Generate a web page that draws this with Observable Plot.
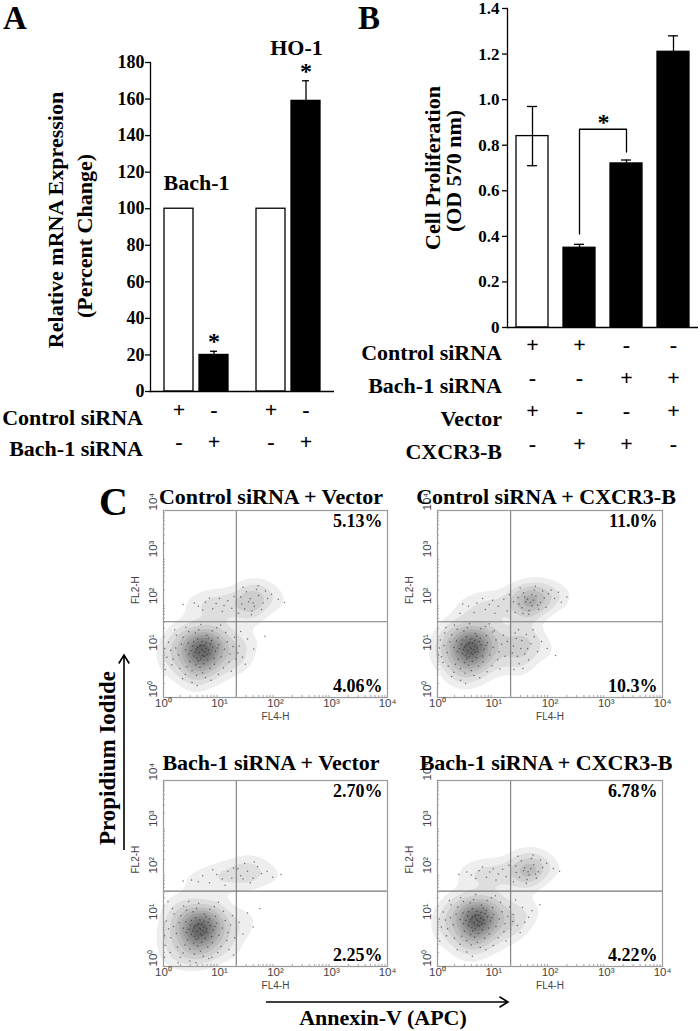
<!DOCTYPE html>
<html><head><meta charset="utf-8">
<script src="https://cdn.jsdelivr.net/npm/d3@7"></script>
<script src="https://cdn.jsdelivr.net/npm/@observablehq/plot@0.6"></script>
<style>
html,body{margin:0;padding:0;background:#fff;}
#fig{position:relative;width:700px;height:1031px;overflow:hidden;background:#fff;}
.p{position:absolute;}
.t{position:absolute;font-family:"Liberation Serif","Times New Roman",serif;font-weight:bold;white-space:nowrap;line-height:1;color:#000;}
</style></head><body><div id="fig"></div>
<script>
// ---------------- Panel A data ----------------
const groupsA = ["Bach-1", "HO-1"];
const conditionsA = ["Control siRNA", "Bach-1 siRNA"];
const valuesA = [100, 20, 100, 159];
const errorsA = [0, 2, 0, 11];
const significantA = [false, true, false, true];
const rowLabelsA = ["Control siRNA", "Bach-1 siRNA"];
const signsA = [["+", "-", "+", "-"], ["-", "+", "-", "+"]];
const ticksA = [0, 20, 40, 60, 80, 100, 120, 140, 160, 180];
const yTitleA = ["Relative mRNA Expression", "(Percent Change)"];

// ---------------- Panel B data ----------------
const conditionsB = ["Control siRNA + Vector", "Control siRNA + CXCR3-B", "Bach-1 siRNA + CXCR3-B", "Bach-1 siRNA + Vector"];
const valuesB = [0.84, 0.35, 0.72, 1.21];
const errorsB = [0.13, 0.015, 0.015, 0.07];
const rowLabelsB = ["Control siRNA", "Bach-1 siRNA", "Vector", "CXCR3-B"];
const signsB = [["+", "+", "-", "-"], ["-", "-", "+", "+"], ["+", "-", "-", "+"], ["-", "+", "+", "-"]];
const bracketB = [[1, 0.41], [1, 0.87], [2, 0.87], [2, 0.77]];
const ticksB = [0, 0.2, 0.4, 0.6, 0.8, 1.0, 1.2, 1.4];
const yTitleB = ["Cell Proliferation", "(OD 570 nm)"];

// ---------------- Panel C data (log10 units) ----------------
const titlesC = ["Control siRNA + Vector", "Control siRNA + CXCR3-B", "Bach-1 siRNA + Vector", "Bach-1 siRNA + CXCR3-B"];
const upperPctC = ["5.13%", "11.0%", "2.70%", "6.78%"];
const lowerPctC = ["4.06%", "10.3%", "2.25%", "4.22%"];
const decadesC = [0, 1, 2, 3, 4];
const gateX = [1.3];
const gateY = [1.62];

const pointsCV = [
[0.70,1.00],[0.64,0.96],[0.76,1.05],[0.58,1.03],[0.82,0.94],[0.67,1.12],[0.73,0.88],[0.60,0.85],[0.88,1.08],[0.52,1.10],
[0.69,1.20],[0.79,0.80],[0.61,1.25],[0.93,0.99],[0.45,0.93],[0.72,0.72],[0.54,1.19],[0.86,1.22],[0.39,1.02],[0.99,1.13],
[0.65,0.64],[0.77,1.33],[0.47,0.77],[1.03,0.87],[0.32,1.14],[0.83,0.62],[0.57,1.38],[0.97,1.28],[0.42,0.66],[1.09,1.03],
[0.27,0.91],[0.70,0.53],[0.63,1.45],[1.14,1.19],[0.35,1.29],[0.91,0.71],[0.51,0.57],[1.19,0.93],[0.22,1.06],[0.87,1.43],
[0.45,1.41],[1.07,0.63],[0.17,0.82],[0.75,0.42],[0.59,0.47],[1.24,1.09],[0.29,0.62],[0.95,1.49],[0.13,1.01],[1.17,0.76],
[0.39,0.49],[0.67,1.56],[1.27,1.29],[0.09,1.18],[0.85,0.37],[0.23,1.33],[1.11,1.39],[0.51,0.32],[0.06,0.86],[1.21,0.56],
[0.68,1.03],[0.74,0.97],[0.61,1.07],[0.78,0.92],[0.70,0.90],[0.56,0.97],[0.81,1.01],[0.65,1.09],[0.72,1.11],[0.54,0.89],
[0.62,0.78],[0.84,1.15],[0.49,1.00],[0.90,0.84],[0.76,1.17],[0.58,0.70],[0.44,1.16],[0.96,1.06],[0.66,0.82],[0.80,1.27],
[0.02,1.05],[0.15,0.70],[0.34,0.40],[1.29,0.82],[0.98,0.50],[0.60,0.25],[0.40,1.50],[1.02,1.55],[0.20,1.45],[0.03,0.60],
[0.62,1.95],[0.75,2.04],[0.88,1.90],[1.00,2.12],[1.08,1.97],[0.94,2.01],[1.15,2.07],[0.82,2.13],[1.22,1.91],[0.70,1.87],
[1.26,2.16],[0.55,2.02],[0.35,1.99],[1.05,1.84],
[1.40,2.00],[1.55,2.11],[1.62,1.95],[1.70,2.18],[1.48,2.26],[1.78,2.02],[1.58,1.85],[1.86,2.12],[1.45,1.90],[1.66,2.31],
[1.52,2.05],[1.75,1.88],[1.93,2.21],[1.38,2.15],[1.60,2.02],[2.05,2.10],[1.69,2.39],[1.42,2.36],[2.16,2.03],[1.82,2.28],
[1.34,1.80],[1.57,1.77],
[1.35,1.10],[1.41,0.86],[1.50,1.25],[1.46,0.71],[1.61,1.04],[1.38,1.41],[1.81,1.31],[1.33,0.95]
];
const pointsCC = [
[0.60,1.05],[0.54,1.00],[0.66,1.10],[0.48,1.08],[0.72,0.98],[0.57,1.17],[0.63,0.92],[0.50,0.90],[0.78,1.13],[0.42,1.14],
[0.59,1.25],[0.69,0.85],[0.51,1.30],[0.83,1.03],[0.35,0.98],[0.62,0.77],[0.44,1.23],[0.76,1.27],[0.29,1.07],[0.89,1.17],
[0.55,0.69],[0.67,1.37],[0.37,0.82],[0.93,0.91],[0.22,1.19],[0.73,0.67],[0.47,1.42],[0.87,1.32],[0.32,0.71],[0.99,1.07],
[0.17,0.96],[0.60,0.58],[0.53,1.49],[1.04,1.23],[0.25,1.34],[0.81,0.76],[0.41,0.62],[1.09,0.98],[0.12,1.11],[0.77,1.47],
[0.35,1.46],[0.97,0.68],[0.07,0.87],[0.65,0.47],[0.49,0.52],[1.14,1.14],[0.19,0.67],[0.85,1.52],[0.03,1.06],[1.07,0.81],
[0.29,0.54],[0.57,1.58],[1.17,1.33],[0.05,1.23],[0.75,0.42],[0.13,1.38],[1.01,1.43],[0.41,0.37],[0.02,0.91],[1.11,0.61],
[0.58,1.08],[0.64,1.02],[0.51,1.12],[0.68,0.97],[0.60,0.95],[0.46,1.02],[0.71,1.06],[0.55,1.14],[0.62,1.16],[0.44,0.94],
[0.52,0.83],[0.74,1.20],[0.39,1.05],[0.80,0.89],[0.66,1.22],[0.48,0.75],[0.34,1.21],[0.86,1.11],[0.56,0.87],[0.70,1.32],
[0.10,0.75],[0.25,0.45],[1.20,0.88],[0.88,0.55],[0.50,0.30],[0.30,1.55],[0.92,1.58],[0.15,1.50],[1.24,1.20],[0.98,1.40],
[1.35,1.10],[1.42,0.88],[1.50,1.22],[1.45,0.72],[1.60,1.05],[1.38,1.38],[1.72,1.30],[1.33,0.95],[1.55,0.93],[1.66,1.15],
[1.48,1.05],[1.78,0.98],[1.40,1.26],[1.62,0.80],[1.85,1.20],[1.52,0.62],[1.36,0.60],[1.70,1.45],[1.95,1.05],[2.10,0.90],
[1.44,1.45],[1.58,1.35],
[1.45,2.00],[1.60,2.10],[1.68,1.96],[1.75,2.17],[1.53,2.24],[1.83,2.03],[1.63,1.86],[1.90,2.13],[1.50,1.92],[1.72,2.30],
[1.57,2.05],[1.80,1.89],[1.97,2.22],[1.43,2.14],[1.65,2.03],[2.08,2.12],[1.74,2.38],[1.47,2.34],[2.20,2.04],[1.87,2.28],
[1.38,1.82],[1.62,1.78],[1.70,2.08],[1.55,2.15],[1.78,1.98],[2.02,2.30],[1.35,2.05],[1.93,1.93],[2.15,2.25],[2.30,2.15],
[1.52,1.80],[1.68,2.20],
[0.55,1.95],[0.70,2.02],[0.85,1.88],[0.98,2.08],[1.08,1.95],[0.92,1.99],[1.18,2.10],[0.80,2.12],[1.24,1.85],[0.65,1.82],
[1.28,2.20],[0.45,2.00],[0.40,1.80],[1.02,1.80]
];
const pointsBV = [
[0.66,0.80],[0.60,0.76],[0.72,0.85],[0.54,0.83],[0.78,0.74],[0.63,0.92],[0.69,0.68],[0.56,0.65],[0.84,0.88],[0.48,0.89],
[0.65,1.00],[0.75,0.60],[0.57,1.05],[0.89,0.79],[0.41,0.73],[0.68,0.52],[0.50,0.99],[0.82,1.02],[0.35,0.82],[0.95,0.93],
[0.61,0.44],[0.73,1.13],[0.43,0.57],[0.99,0.67],[0.28,0.94],[0.79,0.42],[0.53,1.18],[0.93,1.08],[0.38,0.46],[1.05,0.83],
[0.23,0.71],[0.66,0.33],[0.59,1.25],[1.10,0.99],[0.31,1.09],[0.87,0.51],[0.47,0.37],[1.15,0.73],[0.18,0.86],[0.83,1.23],
[0.41,1.21],[1.03,0.43],[0.13,0.62],[0.71,0.22],[0.55,0.27],[1.20,0.89],[0.25,0.42],[0.91,1.29],[0.09,0.81],[1.13,0.56],
[0.35,0.29],[0.63,1.36],[1.23,1.09],[0.05,0.98],[0.81,0.17],[0.19,1.13],[1.07,1.19],[0.47,0.12],[0.02,0.66],[1.17,0.36],
[0.64,0.83],[0.70,0.77],[0.57,0.87],[0.74,0.72],[0.66,0.70],[0.52,0.77],[0.77,0.81],[0.61,0.89],[0.68,0.91],[0.50,0.69],
[0.58,0.58],[0.80,0.95],[0.45,0.80],[0.86,0.64],[0.72,0.97],[0.54,0.50],[0.40,0.96],[0.92,0.86],[0.62,0.62],[0.76,1.07],
[0.03,0.45],[0.12,0.30],[0.30,0.20],[1.27,0.62],[0.97,0.30],[0.58,0.08],[0.36,1.30],[0.98,1.38],[0.16,1.25],[0.02,0.20],
[0.86,0.20],[0.26,0.08],[1.25,0.25],[0.45,1.40],[0.08,1.40],
[0.70,1.95],[0.82,1.80],[0.95,1.98],[1.05,1.88],[1.15,2.05],[0.88,2.08],[1.22,1.90],[0.62,1.82],[1.25,2.12],[0.50,1.86],
[0.35,1.84],[1.10,1.75],
[1.38,1.95],[1.50,2.05],[1.60,1.90],[1.68,2.15],[1.45,2.22],[1.75,2.00],[1.55,1.80],[1.42,1.88],[1.62,2.25],[1.85,2.05],
[1.95,1.92],[2.10,1.98],[1.33,2.10],
[1.35,0.95],[1.42,0.70],[1.50,1.15],[1.60,0.85],[1.72,1.25]
];
const pointsBC = [
[0.71,0.99],[0.65,0.94],[0.77,1.04],[0.59,1.01],[0.83,0.93],[0.68,1.11],[0.74,0.87],[0.61,0.84],[0.89,1.07],[0.53,1.09],
[0.70,1.19],[0.80,0.79],[0.62,1.24],[0.94,0.98],[0.46,0.92],[0.73,0.71],[0.55,1.18],[0.87,1.21],[0.40,1.01],[1.00,1.12],
[0.66,0.63],[0.78,1.32],[0.48,0.76],[1.04,0.86],[0.33,1.13],[0.84,0.61],[0.58,1.37],[0.98,1.27],[0.43,0.65],[1.10,1.02],
[0.28,0.90],[0.71,0.52],[0.64,1.44],[1.15,1.18],[0.36,1.28],[0.92,0.70],[0.52,0.56],[1.20,0.92],[0.23,1.05],[0.88,1.42],
[0.46,1.40],[1.08,0.62],[0.18,0.81],[0.76,0.41],[0.60,0.46],[1.25,1.08],[0.30,0.61],[0.96,1.48],[0.14,1.00],[1.18,0.75],
[0.40,0.48],[0.68,1.55],[1.28,1.28],[0.10,1.17],[0.86,0.36],[0.24,1.32],[1.12,1.38],[0.52,0.31],[0.07,0.85],[1.22,0.55],
[0.69,1.02],[0.75,0.96],[0.62,1.06],[0.79,0.91],[0.71,0.89],[0.57,0.96],[0.82,1.00],[0.66,1.08],[0.73,1.10],[0.55,0.88],
[0.63,0.77],[0.85,1.14],[0.50,0.99],[0.91,0.83],[0.77,1.16],[0.59,0.69],[0.45,1.15],[0.97,1.05],[0.67,0.81],[0.81,1.26],
[0.03,1.02],[0.16,0.66],[0.35,0.36],[1.30,0.80],[0.99,0.45],[0.62,0.22],[0.41,1.48],[1.03,1.52],[0.21,1.42],[0.04,0.55],
[0.60,1.97],[0.74,2.06],[0.87,1.92],[0.99,2.10],[1.08,1.99],[0.93,2.03],[1.16,2.09],[0.80,2.14],[1.22,1.93],[0.68,1.89],
[1.27,2.18],[0.52,2.03],[0.38,1.98],[1.04,1.86],
[1.40,2.02],[1.55,2.12],[1.63,1.97],[1.71,2.19],[1.49,2.27],[1.79,2.04],[1.59,1.87],[1.87,2.13],[1.46,1.92],[1.67,2.32],
[1.53,2.06],[1.76,1.90],[1.94,2.22],[1.39,2.16],[1.61,2.04],[2.06,2.11],[1.70,2.40],[1.43,2.37],[2.17,2.05],[1.83,2.29],
[1.35,1.82],[1.58,1.79],[1.66,2.10],[1.74,1.99],
[1.35,1.12],[1.42,0.88],[1.51,1.27],[1.47,0.73],[1.62,1.06],[1.39,1.43],[1.82,1.33],[1.34,0.97],[1.55,0.95],[1.68,1.20]
];
const pointsC = [pointsCV, pointsCC, pointsBV, pointsBC];

// ---------------- helpers ----------------
const fig = document.getElementById("fig");
const SERIF = "Liberation Serif, Times New Roman, serif";
const SANS = "Liberation Sans, Arial, sans-serif";
function place(node, left, top) {
  const d = document.createElement("div");
  d.className = "p"; d.style.left = left + "px"; d.style.top = top + "px";
  d.appendChild(node); fig.appendChild(d);
}
function htext(str, x, baseline, size, align) {
  const d = document.createElement("div");
  d.className = "t"; d.textContent = str; d.style.fontSize = size + "px";
  d.style.top = (baseline - 0.8375 * size) + "px";
  if (align === "right") { d.style.right = (700 - x) + "px"; d.style.textAlign = "right"; }
  else if (align === "center") { d.style.left = (x - 300) + "px"; d.style.width = "600px"; d.style.textAlign = "center"; }
  else d.style.left = x + "px";
  fig.appendChild(d);
}
function vtext(str, baselineX, cy, size) {
  const d = document.createElement("div");
  d.className = "t"; d.textContent = str; d.style.fontSize = size + "px";
  d.style.left = (baselineX - 0.3375 * size) + "px"; d.style.top = cy + "px";
  d.style.transform = "translate(-50%,-50%) rotate(-90deg)";
  fig.appendChild(d);
}
function arrow(x1, y1, x2, y2) {
  const ns = "http://www.w3.org/2000/svg";
  const s = document.createElementNS(ns, "svg");
  s.setAttribute("width", 700); s.setAttribute("height", 1031);
  s.style.position = "absolute"; s.style.left = "0"; s.style.top = "0"; s.style.pointerEvents = "none";
  const ang = Math.atan2(y2 - y1, x2 - x1), L = 10, W = 0.55;
  const p = `M${x1},${y1}L${x2},${y2}M${x2 - L * Math.cos(ang - W)},${y2 - L * Math.sin(ang - W)}L${x2},${y2}L${x2 - L * Math.cos(ang + W)},${y2 - L * Math.sin(ang + W)}`;
  const path = document.createElementNS(ns, "path");
  path.setAttribute("d", p); path.setAttribute("stroke", "#000"); path.setAttribute("stroke-width", "1.6"); path.setAttribute("fill", "none");
  s.appendChild(path); fig.appendChild(s);
}

// ---------------- Panel A ----------------
const dataA = valuesA.map((v, i) => ({group: groupsA[Math.floor(i / 2)], cond: conditionsA[i % 2], value: v, err: errorsA[i], sig: significantA[i], i}));
const fillA = d => d.cond === conditionsA[0] ? "white" : "black";
const errA = dataA.filter(d => d.err > 0);
const topA = g => d3.max(dataA.filter(d => d.group === g), d => d.value + d.err);
const plotA = Plot.plot({
  width: 345, height: 470, marginLeft: 149, marginRight: 11, marginTop: 62, marginBottom: 79,
  style: {fontFamily: SERIF, fontWeight: "bold", fontSize: "18px", color: "#000", background: "transparent", overflow: "visible"},
  fx: {domain: groupsA, padding: 0, axis: null, label: null},
  x: {domain: conditionsA, paddingInner: 0.18, paddingOuter: 0.39, axis: null},
  y: {domain: [0, 180], axis: null},
  marks: [
    Plot.barY(dataA, {fx: "group", x: "cond", y: "value", fill: fillA, stroke: "#000", strokeWidth: 1.3}),
    Plot.ruleX(errA, {fx: "group", x: "cond", y1: "value", y2: d => d.value + d.err, strokeWidth: 1.3}),
    Plot.tickY(errA, {fx: "group", x: "cond", y: d => d.value + d.err, insetLeft: 11, insetRight: 11, strokeWidth: 1.3}),
    Plot.text(dataA.filter(d => d.sig), {fx: "group", x: "cond", y: d => d.value + d.err, text: () => "*", lineAnchor: "bottom", dy: -2, fontSize: 24, fontWeight: "bold"}),
    Plot.ruleY([0], {strokeWidth: 1.3}),
    Plot.frame({anchor: "left", facetAnchor: "left", strokeWidth: 1.3}),
    Plot.axisY({ticks: ticksA, label: null, tickSize: 5, tickPadding: 1, tickFormat: d => String(d), fontSize: 18, fontWeight: "bold", strokeWidth: 1.3}),
    Plot.text([groupsA[0]], {fx: d => d, y: () => topA(groupsA[0]), text: d => d, lineAnchor: "bottom", dy: -19, fontSize: 22, fontWeight: "bold"}),
    Plot.text([groupsA[1]], {fx: d => d, y: () => topA(groupsA[1]), text: d => d, lineAnchor: "bottom", dy: -26, dx: 8, fontSize: 22, fontWeight: "bold"}),
    ...signsA.map((row, r) => Plot.text(dataA, {fx: "group", x: "cond", text: d => row[d.i], frameAnchor: "bottom", dy: 25.5 + 32 * r, fontSize: 22, fontWeight: "bold"}))
  ]
});
place(plotA, 0, 0);

// ---------------- Panel B ----------------
const dataB = valuesB.map((v, i) => ({cond: conditionsB[i], value: v, err: errorsB[i], i}));
const fillB = d => d.cond === conditionsB[0] ? "white" : "black";
const plotB = Plot.plot({
  width: 350, height: 470, marginLeft: 157, marginRight: 2, marginTop: 8, marginBottom: 143,
  style: {fontFamily: SERIF, fontWeight: "bold", fontSize: "17px", color: "#000", background: "transparent", overflow: "visible"},
  x: {domain: conditionsB, paddingInner: 0.32, paddingOuter: 0.19, axis: null},
  y: {domain: [0, 1.4], axis: null},
  marks: [
    Plot.barY(dataB, {x: "cond", y: "value", fill: fillB, stroke: "#000", strokeWidth: 1.3}),
    Plot.ruleX(dataB, {x: "cond", y1: d => d.value - d.err, y2: d => d.value + d.err, strokeWidth: 1.3}),
    Plot.tickY(dataB, {x: "cond", y: d => d.value + d.err, insetLeft: 11, insetRight: 11, strokeWidth: 1.3}),
    Plot.tickY(dataB, {x: "cond", y: d => d.value - d.err, insetLeft: 11, insetRight: 11, strokeWidth: 1.3}),
    Plot.line(bracketB, {x: d => conditionsB[d[0]], y: d => d[1], strokeWidth: 1.3}),
    Plot.text([bracketB[1]], {x: d => conditionsB[d[0]], y: d => d[1], text: () => "*", dx: 24, dy: 1, lineAnchor: "bottom", fontSize: 24, fontWeight: "bold"}),
    Plot.ruleY([0], {strokeWidth: 1.3}),
    Plot.frame({anchor: "left", strokeWidth: 1.3}),
    Plot.axisY({ticks: ticksB, label: null, tickSize: 5, tickPadding: 3, tickFormat: d => d === 0 ? "0" : d.toFixed(1), fontSize: 17, fontWeight: "bold", strokeWidth: 1.3}),
    ...signsB.map((row, r) => Plot.text(dataB, {x: "cond", text: d => row[d.i], frameAnchor: "bottom", dy: 24.5 + 33 * r, fontSize: 22, fontWeight: "bold"}))
  ]
});
place(plotB, 350, 0);

// ---------------- Panel C ----------------
const sup = ["\u2070", "\u00b9", "\u00b2", "\u00b3", "\u2074"];
const minorC = d3.range(0, 4).flatMap(k => d3.range(2, 10).map(m => k + Math.log10(m)));
const frameC = [
  {left: 163, top: 510, w: 224, h: 187},
  {left: 437, top: 510, w: 225, h: 187},
  {left: 163, top: 780, w: 224, h: 186},
  {left: 437, top: 780, w: 225, h: 186}
];
const mL = 45, mR = 4, mT = 8, mB = 30;
pointsC.forEach((pts, k) => {
  const f = frameC[k];
  const pl = Plot.plot({
    width: f.w + mL + mR, height: f.h + mT + mB, marginLeft: mL, marginRight: mR, marginTop: mT, marginBottom: mB,
    style: {background: "transparent", overflow: "visible"},
    x: {domain: [0, 4], axis: null},
    y: {domain: [0, 4], axis: null},
    color: {type: "linear", range: ["#ffffff", "#6a6a6a"], legend: false},
    marks: [
      Plot.density(pts, {x: d => d[0], y: d => d[1], fill: "density", stroke: "none", bandwidth: 8, thresholds: 10}),
      Plot.dot(pts, {x: d => d[0], y: d => d[1], r: 0.75, fill: "#222", fillOpacity: 0.6}),
      Plot.ruleX(gateX, {stroke: "#7a7a7a", strokeWidth: 1.1}),
      Plot.ruleY(gateY, {stroke: "#7a7a7a", strokeWidth: 1.1}),
      Plot.ruleY(minorC, {x1: 0, x2: 0.035, stroke: "#aaa"}),
      Plot.ruleX(minorC, {y1: 0, y2: 0.045, stroke: "#aaa"}),
      Plot.frame({stroke: "#9a9a9a", strokeWidth: 1.2}),
      Plot.text(decadesC, {x: d => d, frameAnchor: "bottom", dy: 1, lineAnchor: "top", text: d => "10" + sup[d], fontSize: 11.5, fontFamily: SANS, fill: "#444"}),
      Plot.text(decadesC, {y: d => d, frameAnchor: "left", dx: -10, rotate: -90, text: d => "10" + sup[d], fontSize: 11.5, fontFamily: SANS, fill: "#444"}),
      Plot.text(["FL4-H"], {x: () => 2, frameAnchor: "bottom", dy: 22, text: d => d, fontSize: 10, fontFamily: SANS, fill: "#444"}),
      Plot.text(["FL2-H"], {y: () => 2, frameAnchor: "left", dx: -28, rotate: -90, text: d => d, fontSize: 10, fontFamily: SANS, fill: "#444"}),
      Plot.text([upperPctC[k]], {frameAnchor: "top-right", dx: -5, dy: 16, lineAnchor: "bottom", textAnchor: "end", text: d => d, fontSize: 18, fontFamily: SERIF, fontWeight: "bold", fill: "#000"}),
      Plot.text([lowerPctC[k]], {frameAnchor: "bottom-right", dx: -5, dy: -6, lineAnchor: "bottom", textAnchor: "end", text: d => d, fontSize: 18, fontFamily: SERIF, fontWeight: "bold", fill: "#000"})
    ]
  });
  place(pl, f.left - mL, f.top - mT);
});

// ---------------- Text overlays ----------------
htext("A", 3, 30, 33, "left");
htext("B", 358, 30, 33, "left");
htext("C", 99, 515, 40, "left");
rowLabelsA.forEach((s, r) => htext(s, 143, 425 + 31 * r, 22, "right"));
rowLabelsB.forEach((s, r) => htext(s, 502, 360 + 33 * r, 22, "right"));
vtext(yTitleA[0], 63, 220, 22);
vtext(yTitleA[1], 92, 236, 22);
vtext(yTitleB[0], 440, 168, 22);
vtext(yTitleB[1], 461, 171, 22);
htext(titlesC[0], 271, 504, 22, "center");
htext(titlesC[1], 546, 504, 22, "center");
htext(titlesC[2], 271, 770, 22, "center");
htext(titlesC[3], 546, 770, 22, "center");
vtext("Propidium Iodide", 115, 758, 23);
htext("Annexin-V (APC)", 383, 1025, 22, "center");
arrow(124, 850, 124, 655);
arrow(266, 1002, 508, 1002);
</script></body></html>
